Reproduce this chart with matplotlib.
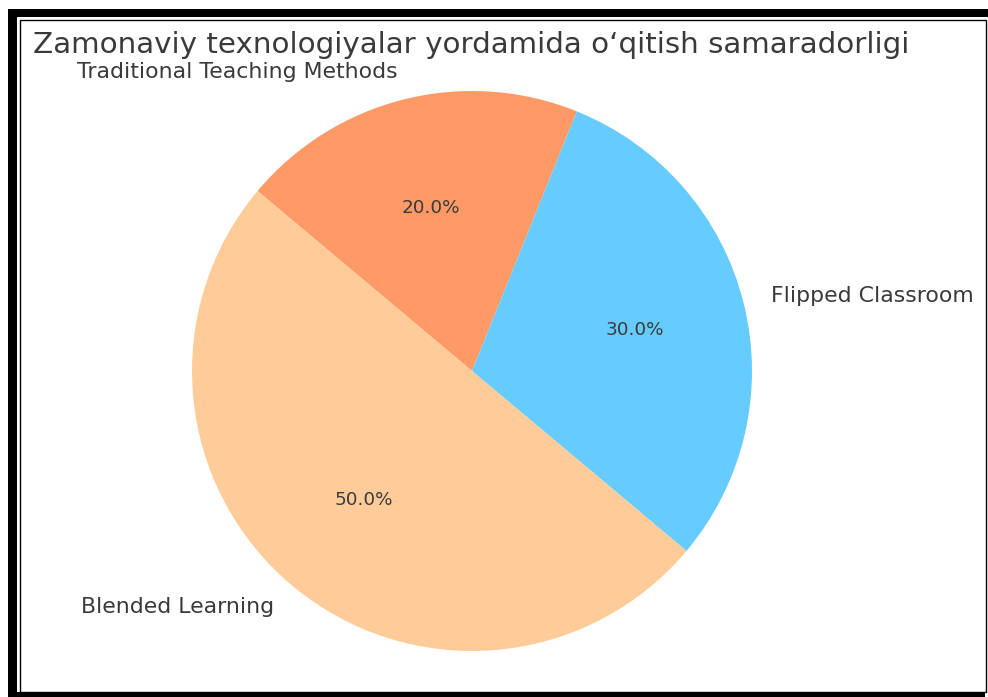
import matplotlib.pyplot as plt
from matplotlib.patches import Rectangle
from matplotlib.transforms import Affine2D

labels = ['Traditional Teaching Methods', 'Flipped Classroom', 'Blended Learning']
sizes = [20, 30, 50]
colors = ['#ff9966', '#66ccff', '#ffcc99']
title = 'Zamonaviy texnologiyalar yordamida o‘qitish samaradorligi'

W, H = 988, 697
fig = plt.figure(figsize=(W / 100, H / 100), dpi=100)

# pixel coordinates measured from the top-left corner
px = Affine2D().scale(1 / W, -1 / H).translate(0, 1) + fig.transFigure

# frame around the picture: thick bands left/top/bottom, thin inner box
for x0, y0, w, h in [(8, 9, 980, 8), (8, 9, 9, 688), (8, 692, 977, 5)]:
    fig.patches.append(Rectangle((x0, y0), w, h, transform=px, facecolor='black',
                                 edgecolor='none'))
fig.patches.append(Rectangle((19.5, 19.5), 966, 672, transform=px, fill=False,
                             edgecolor='black', linewidth=1))

cx, cy, r = 472, 371, 280
ax = fig.add_axes([(cx - r) / W, (H - cy - r) / H, 2 * r / W, 2 * r / H])
ax.pie(sizes, labels=labels, colors=colors, autopct='%1.1f%%', startangle=140,
       counterclock=False, textprops={'fontsize': 15.8, 'color': '#3a3a3a'})
for t in ax.texts:
    if t.get_text().endswith('%'):
        t.set_fontsize(13.2)
ax.set_xlim(-1, 1)
ax.set_ylim(-1, 1)
ax.axis('off')

fig.text(471 / W, 1 - 45 / H, title, ha='center', va='center', fontsize=21.2, color='#3a3a3a')

fig.savefig('out.png', dpi=100)
